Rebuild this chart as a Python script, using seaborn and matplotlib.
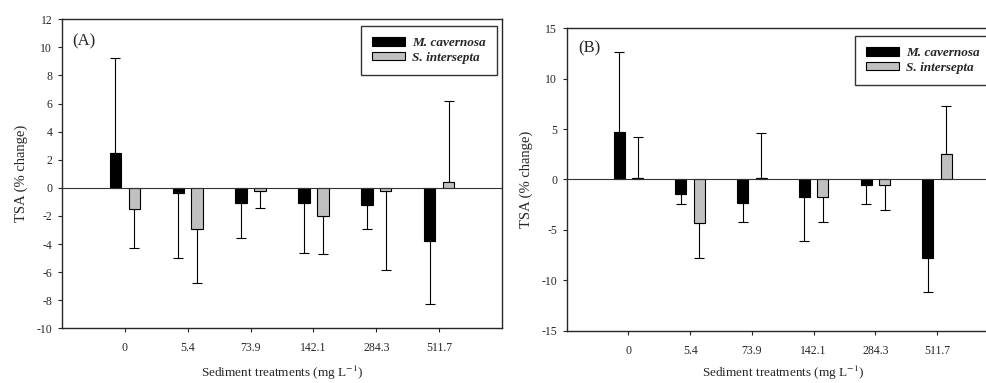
import matplotlib
matplotlib.use("Agg")
import matplotlib.pyplot as plt
import seaborn as sns
import pandas as pd
import numpy as np

# categories and series
treatments = ["0", "5.4", "73.9", "142.1", "284.3", "511.7"]
species = ["M. cavernosa", "S. intersepta"]

a_mcav = [2.5, -0.4, -1.07, -1.07, -1.2, -3.8]
a_mcav_se = [6.75, 4.6, 2.53, 3.56, 1.75, 4.5]
a_sint = [-1.54, -2.95, -0.24, -2.02, -0.19, 0.45]
a_sint_se = [2.76, 3.8, 1.23, 2.68, 5.65, 5.75]

b_mcav = [4.73, -1.42, -2.32, -1.75, -0.56, -7.77]
b_mcav_se = [7.94, 0.99, 1.91, 4.4, 1.85, 3.38]
b_sint = [0.1, -4.27, 0.1, -1.75, -0.5, 2.55]
b_sint_se = [4.1, 3.5, 4.53, 2.42, 2.54, 4.76]

colors = ["black", "#c0c0c0"]

sns.set_style("ticks")
plt.rcParams["font.family"] = ["Liberation Serif", "DejaVu Serif"]
plt.rcParams["mathtext.fontset"] = "stix"
plt.rcParams["axes.unicode_minus"] = False


def panel(ax, mcav, mcav_se, sint, sint_se, ylim, yticks, tag, tagpos, legpos, xlpad):
    df = pd.DataFrame({
        "treatment": treatments * 2,
        "species": [species[0]] * 6 + [species[1]] * 6,
        "value": mcav + sint,
    })
    sns.barplot(data=df, x="treatment", y="value", hue="species", order=treatments,
                hue_order=species, palette=colors, width=0.6, gap=0.4,
                edgecolor="black", linewidth=0.8, errorbar=None, ax=ax, zorder=3)
    # one-sided error bars, drawn at the centre of each bar
    for cont, vals, ses in zip(ax.containers, [mcav, sint], [mcav_se, sint_se]):
        xs = [p.get_x() + p.get_width() / 2 for p in cont.patches]
        vals = np.array(vals)
        ses = np.array(ses)
        lower = np.where(vals < 0, ses, 0)
        upper = np.where(vals >= 0, ses, 0)
        ax.errorbar(xs, vals, yerr=[lower, upper], fmt="none", ecolor="black",
                    elinewidth=0.8, capsize=3.5, capthick=0.8, zorder=2)
    ax.axhline(0, color="#333333", lw=0.8, zorder=4)
    ax.set_xlim(-1, 6)
    ax.set_ylim(*ylim)
    ax.set_yticks(yticks)
    ax.set_xlabel("Sediment treatments (mg L$^{-1}$)", fontsize=9.5, labelpad=xlpad)
    ax.set_ylabel("TSA (% change)", fontsize=10.5, labelpad=6)
    ax.tick_params(axis="x", length=3, width=0.8, pad=7, labelsize=8.5)
    ax.tick_params(axis="y", length=3, width=0.8, pad=4, labelsize=8.5)
    for s in ax.spines.values():
        s.set_linewidth(1.0)
        s.set_visible(True)
    ax.text(tagpos[0], tagpos[1], tag, transform=ax.transAxes, fontsize=12,
            va="center", ha="left")
    leg = ax.legend(loc="upper right", bbox_to_anchor=legpos, borderaxespad=0,
                    frameon=True, fancybox=False, edgecolor="black",
                    handlelength=2.5, handleheight=0.6, handletextpad=0.5,
                    labelspacing=0.2, borderpad=0.85,
                    prop={"style": "italic", "weight": "bold", "size": 9.5})
    leg.get_frame().set_linewidth(1.0)
    leg.set_zorder(10)


fig = plt.figure(figsize=(9.87, 3.83), dpi=100)
ax1 = fig.add_axes([0.0628, 0.1428, 0.4458, 0.8068])
ax2 = fig.add_axes([0.5742, 0.1366, 0.4377, 0.7895])

panel(ax1, a_mcav, a_mcav_se, a_sint, a_sint_se, (-10, 12), range(-10, 13, 2),
      "(A)", (0.023, 0.93), (0.988, 0.978), 7)
panel(ax2, b_mcav, b_mcav_se, b_sint, b_sint_se, (-15, 15), range(-15, 16, 5),
      "(B)", (0.026, 0.935), (0.981, 0.9745), 5)

fig.savefig("out.png", dpi=100)
